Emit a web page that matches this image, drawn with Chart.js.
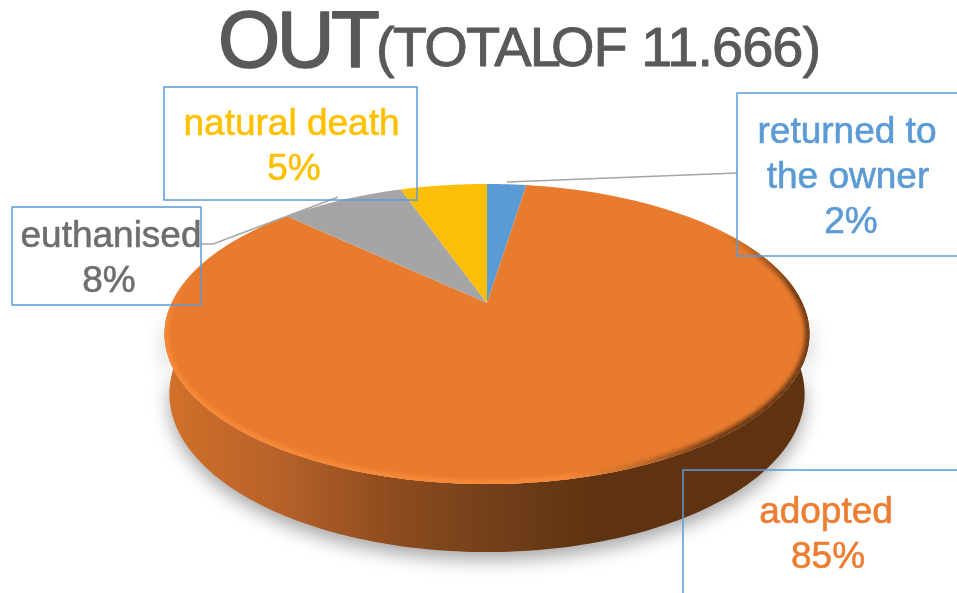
<!DOCTYPE html>
<html><head><meta charset="utf-8">
<style>html,body{margin:0;padding:0;background:#fff;overflow:hidden}#w{position:relative;width:957px;height:593px}</style>
<script src="https://cdn.jsdelivr.net/npm/chart.js@4"></script>
</head><body><div id="w"><canvas id="c" width="957" height="593"></canvas></div>
<script>
const categories = ['returned to the owner', 'adopted', 'euthanised', 'natural death'];
const shares = [2.4, 84.7, 7.6, 5.3];
const sliceColors = ['#5b9bd5', '#e87b2e', '#a5a5a5', '#fdbe07'];
const titleMain = 'OUT';
const titleRest = ['(TOTAL', 'OF 11.666)'];

// Projection of the flat pie onto the tilted disc seen in perspective
const cx = 487, c = 0.2067, a = -81, b = 303, R = 315.5;
function proj(t){ // t: angle clockwise from 12 o'clock
  const u = Math.sin(t), v = Math.cos(t), d = 1 + c * v;
  return [cx + R * u / d, (a * v + b) / d];
}
function low(p){ return [cx + (p[0] - cx) * 0.985, p[1] + 60 + (p[1] - 337) * 0.0544]; }
const tR = Math.PI/2 + 0.2067, tL = 3*Math.PI/2 - 0.2067;

function rimPath(ctx, t0, t1, f){
  const n = 160;
  for (let i = 0; i <= n; i++){
    let p = proj(t0 + (t1 - t0) * i / n); if (f) p = f(p);
    ctx.lineTo(p[0], p[1]);
  }
}
const disc3d = {
  id: 'disc3d',
  beforeDatasetDraw(chart){
    const ctx = chart.ctx, arcs = chart.getDatasetMeta(0).data;
    ctx.save();
    const g = ctx.createLinearGradient(165, 0, 810, 0);
    g.addColorStop(0, '#d27129'); g.addColorStop(0.17, '#b8622a');
    g.addColorStop(0.35, '#8e4c1e'); g.addColorStop(0.5, '#74401a');
    g.addColorStop(0.66, '#5f3311'); g.addColorStop(1, '#5f3311');
    ctx.save();
    ctx.shadowColor = 'rgba(0,0,0,0.34)'; ctx.shadowBlur = 18; ctx.shadowOffsetY = 8; ctx.shadowOffsetX = 0;
    ctx.beginPath();
    rimPath(ctx, tR - 0.15, tL + 0.15);
    rimPath(ctx, tL + 0.15, tR - 0.15, low);
    ctx.closePath(); ctx.fillStyle = g; ctx.fill();
    ctx.restore();
    arcs.forEach(el => {
      const s = el.startAngle + Math.PI/2, e = el.endAngle + Math.PI/2;
      ctx.beginPath(); ctx.moveTo(cx, b);
      rimPath(ctx, s, e);
      ctx.closePath();
      ctx.fillStyle = el.options.backgroundColor; ctx.fill();
    });
    // bevel: clipped to the disc, fading out at both ends
    ctx.save();
    ctx.beginPath(); rimPath(ctx, 0, Math.PI*2); ctx.closePath(); ctx.clip();
    const h = ctx.createLinearGradient(165, 0, 810, 0);
    h.addColorStop(0, '#f98a38'); h.addColorStop(0.62, '#f98a38');
    h.addColorStop(0.73, '#c46c2a'); h.addColorStop(0.86, '#5f3311'); h.addColorStop(1, '#5f3311');
    ctx.filter = 'blur(2px)';
    ctx.strokeStyle = h; ctx.lineCap = 'butt';
    const t0 = 1.0, t1 = 4.95, n = 80;
    for (let i = 0; i < n; i++){
      const f = (i + 0.5) / n;
      ctx.globalAlpha = Math.min(1, f / 0.12, (1 - f) / 0.12);
      const p = proj(t0 + (t1 - t0) * i / n), q = proj(t0 + (t1 - t0) * (i + 1.1) / n);
      ctx.beginPath(); ctx.moveTo(p[0], p[1]); ctx.lineTo(q[0], q[1]);
      ctx.lineWidth = 8; ctx.stroke();
    }
    ctx.restore();
    ctx.restore();
    return false;
  }
};
const notes = [
  {color:'#ffc000', box:[164,87,253,113], lines:[['natural death',291.5,135],['5%',294,180]]},
  {color:'#6e6e6e', box:[12,207,189,98], lines:[['euthanised',111,247],['8%',109,292]]},
  {color:'#5b9bd5', box:[737,93,240,163], lines:[['returned to',847,143],['the owner',848,188],['2%',851,233]]},
  {color:'#ed7d31', box:[683,470,300,140], lines:[['adopted',826,523],['85%',828,568]]}
];
function heavy(ctx, s, x, y, w){ ctx.lineWidth = w; ctx.lineJoin = 'round'; ctx.strokeText(s, x, y); ctx.fillText(s, x, y); }
const callouts = {
  id: 'callouts',
  afterDatasetsDraw(chart){
    const ctx = chart.ctx; ctx.save();
    ctx.strokeStyle = '#a5a5a5'; ctx.lineWidth = 1.5;
    ctx.beginPath(); ctx.moveTo(737,173); ctx.lineTo(507,182); ctx.stroke();
    ctx.beginPath(); ctx.moveTo(201,244); ctx.lineTo(213,244); ctx.lineTo(338,197); ctx.stroke();
    notes.forEach(n => {
      ctx.strokeStyle = '#5b9bd5'; ctx.lineWidth = 1.5;
      ctx.strokeRect(n.box[0], n.box[1], n.box[2], n.box[3]);
      ctx.fillStyle = n.color; ctx.strokeStyle = n.color; ctx.font = '37px "Liberation Sans"';
      ctx.textAlign = 'center'; ctx.textBaseline = 'alphabetic';
      n.lines.forEach(l => heavy(ctx, l[0], l[1], l[2], 0.6));
    });
    ctx.fillStyle = '#595959'; ctx.strokeStyle = '#595959'; ctx.textAlign = 'left';
    ctx.font = '80px "Liberation Sans"'; ctx.letterSpacing = '-3.5px';
    heavy(ctx, titleMain, 218, 67, 1.6);
    ctx.font = '56px "Liberation Sans"'; ctx.letterSpacing = '-1.8px';
    heavy(ctx, titleRest[0], 376, 66, 0.9);
    ctx.letterSpacing = '-1px';
    heavy(ctx, titleRest[1], 551, 66, 0.9);
    ctx.restore();
  }
};
new Chart(document.getElementById('c'), {
  type: 'pie',
  data: { labels: categories, datasets: [{ data: shares, backgroundColor: sliceColors, borderWidth: 0 }] },
  options: { responsive: false, animation: false, events: [],
    plugins: { legend: {display:false}, tooltip: {enabled:false} } },
  plugins: [disc3d, callouts]
});
</script></body></html>
